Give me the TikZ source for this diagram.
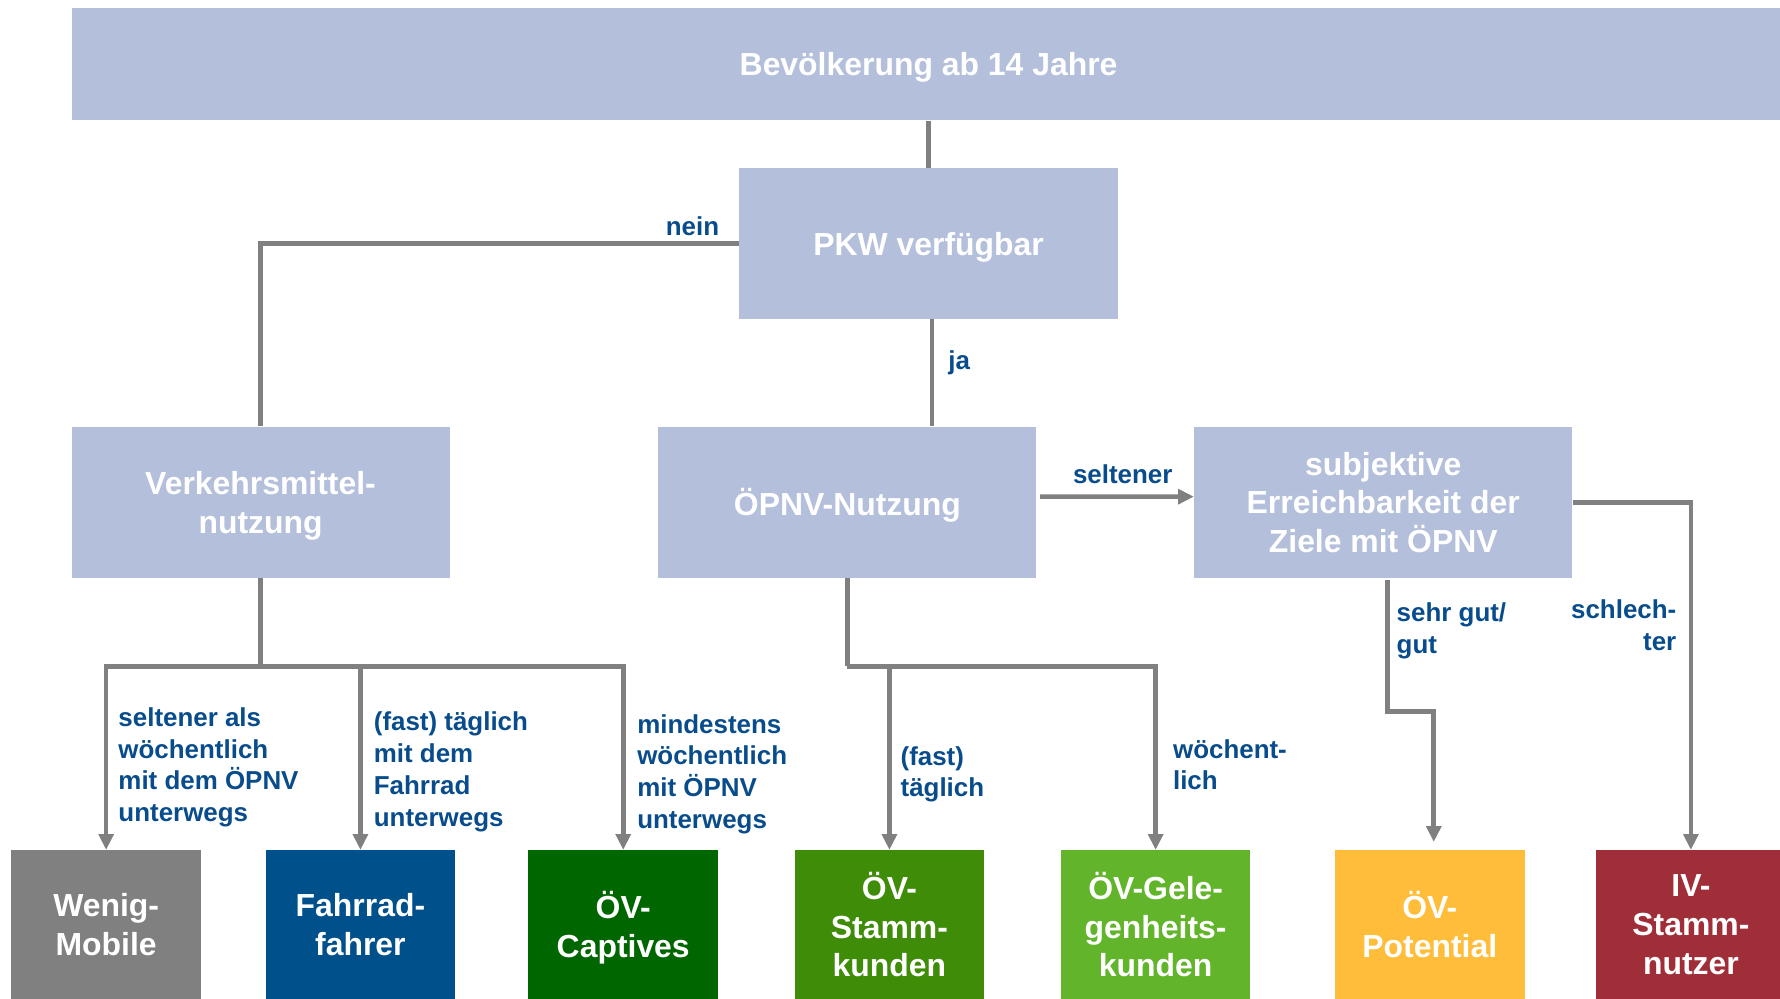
\documentclass[tikz,border=0pt]{standalone}
\usepackage{fontspec}
\setmainfont{Liberation Sans}
\usepackage{tikz}
\usetikzlibrary{arrows.meta}
\definecolor{boxblue}{RGB}{180,191,219}
\definecolor{lblblue}{RGB}{8,76,140}
\definecolor{linegray}{RGB}{128,128,128}
\definecolor{catgray}{RGB}{128,128,128}
\definecolor{catblue}{RGB}{0,80,140}
\definecolor{catdkgreen}{RGB}{0,102,0}
\definecolor{catgreen}{RGB}{62,140,8}
\definecolor{catltgreen}{RGB}{98,180,42}
\definecolor{catorange}{RGB}{255,189,58}
\definecolor{catred}{RGB}{160,46,56}

\begin{document}
\begin{tikzpicture}[x=0.02cm, y=-0.02cm,
  box/.style={fill=boxblue, text=white, font=\bfseries\fontsize{16}{19.4}\selectfont, align=center, inner sep=0, text depth=0pt, minimum width=6.66cm, minimum height=2.66cm},
  cat/.style={text=white, font=\bfseries\fontsize{16}{19.4}\selectfont, align=center, inner sep=0, text depth=0pt, minimum width=3.34cm, minimum height=2.62cm},
  lbl/.style={text=lblblue, font=\bfseries\fontsize{13}{15.9}\selectfont, inner sep=0},
  conn/.style={draw=linegray, line width=2.3pt},
  arr/.style={conn, -{Triangle[length=0.28cm, width=0.26cm]}}]
\useasboundingbox (0,0) rectangle (1568,880);
\node[box, minimum width=30.2cm, minimum height=1.98cm] (top) at (818,56.5) {Bevölkerung ab 14 Jahre};
\node[box, minimum width=6.68cm] (pkw) at (818,214.5) {PKW verfügbar};
\node[box] (vm) at (229.5,442.5) {Verkehrsmittel-\\nutzung};
\node[box] (oepnv) at (746.5,442.5) {ÖPNV-Nutzung};
\node[box] (subj) at (1218.5,442.5) {subjektive\\Erreichbarkeit der\\Ziele mit ÖPNV};
\node[cat, fill=catgray] (wenig) at (93.5,814.5) {Wenig-\\Mobile};
\node[cat, fill=catblue] (fahr) at (317.5,814.5) {Fahrrad-\\fahrer};
\node[cat, fill=catdkgreen] (capt) at (549,814.5) {ÖV-\\Captives};
\node[cat, fill=catgreen] (stamm) at (783.5,814.5) {ÖV-\\Stamm-\\kunden};
\node[cat, fill=catltgreen] (gel) at (1018,814.5) {ÖV-Gele-\\genheits-\\kunden};
\node[cat, fill=catorange] (pot) at (1259.5,814.5) {ÖV-\\Potential};
\node[cat, fill=catred] (iv) at (1489.5,814.5) {IV-\\Stamm-\\nutzer};
\coordinate (vmj) at (229.5,587);
\coordinate (oej) at (746.5,587);
\coordinate (gutk) at (1222,627);
\draw[conn] (pkw.north |- top.south) -- (pkw.north);
\draw[conn] (pkw.west) -| (vm.north);
\draw[conn] ([xshift=0.06cm]pkw.south) -- ([xshift=0.06cm]pkw.south |- oepnv.north);
\draw[arr] ([shift={(3,-5)}]oepnv.east) -- ([yshift=0.1cm]subj.west);
\draw[conn] (vm.south) -- (vmj);
\draw[arr] (vmj) -| (wenig.north);
\draw[arr] (vmj) -| (capt.north);
\draw[arr] (vmj -| fahr.north) -- (fahr.north);
\draw[conn] (oepnv.south) -- (oej);
\draw[arr] (oej) -| (gel.north);
\draw[arr] (oej -| stamm.north) -- (stamm.north);
\draw[arr] ([yshift=-0.04cm]subj.south -| gutk) -- (gutk) -| ([shift={(3.5,-7)}]pot.north);
\draw[arr] (subj.east) -| (iv.north);
\node[lbl] (neinl) at (610,199) {nein};
\node[lbl] (jal) at (845,320) {ja};
\node[lbl] (seltl) at (989,418) {seltener};
\node[lbl, align=left, anchor=north west] (wenigl) at (104,623) {seltener als\\wöchentlich\\mit dem ÖPNV\\unterwegs};
\node[lbl, align=left, anchor=north west] (fahrl) at (329,627) {(fast) täglich\\mit dem\\Fahrrad\\unterwegs};
\node[lbl, align=left, anchor=north west] (captl) at (561,629) {mindestens\\wöchentlich\\mit ÖPNV\\unterwegs};
\node[lbl, align=left, anchor=north west] (stamml) at (793,657) {(fast)\\täglich};
\node[lbl, align=left, anchor=north west] (gell) at (1033,651) {wöchent-\\lich};
\node[lbl, align=left, anchor=north west] (gutl) at (1230,531) {sehr gut/\\gut};
\node[lbl, align=right, anchor=north east] (schlechtl) at (1477,528) {schlech-\\ter};
\end{tikzpicture}
\end{document}
